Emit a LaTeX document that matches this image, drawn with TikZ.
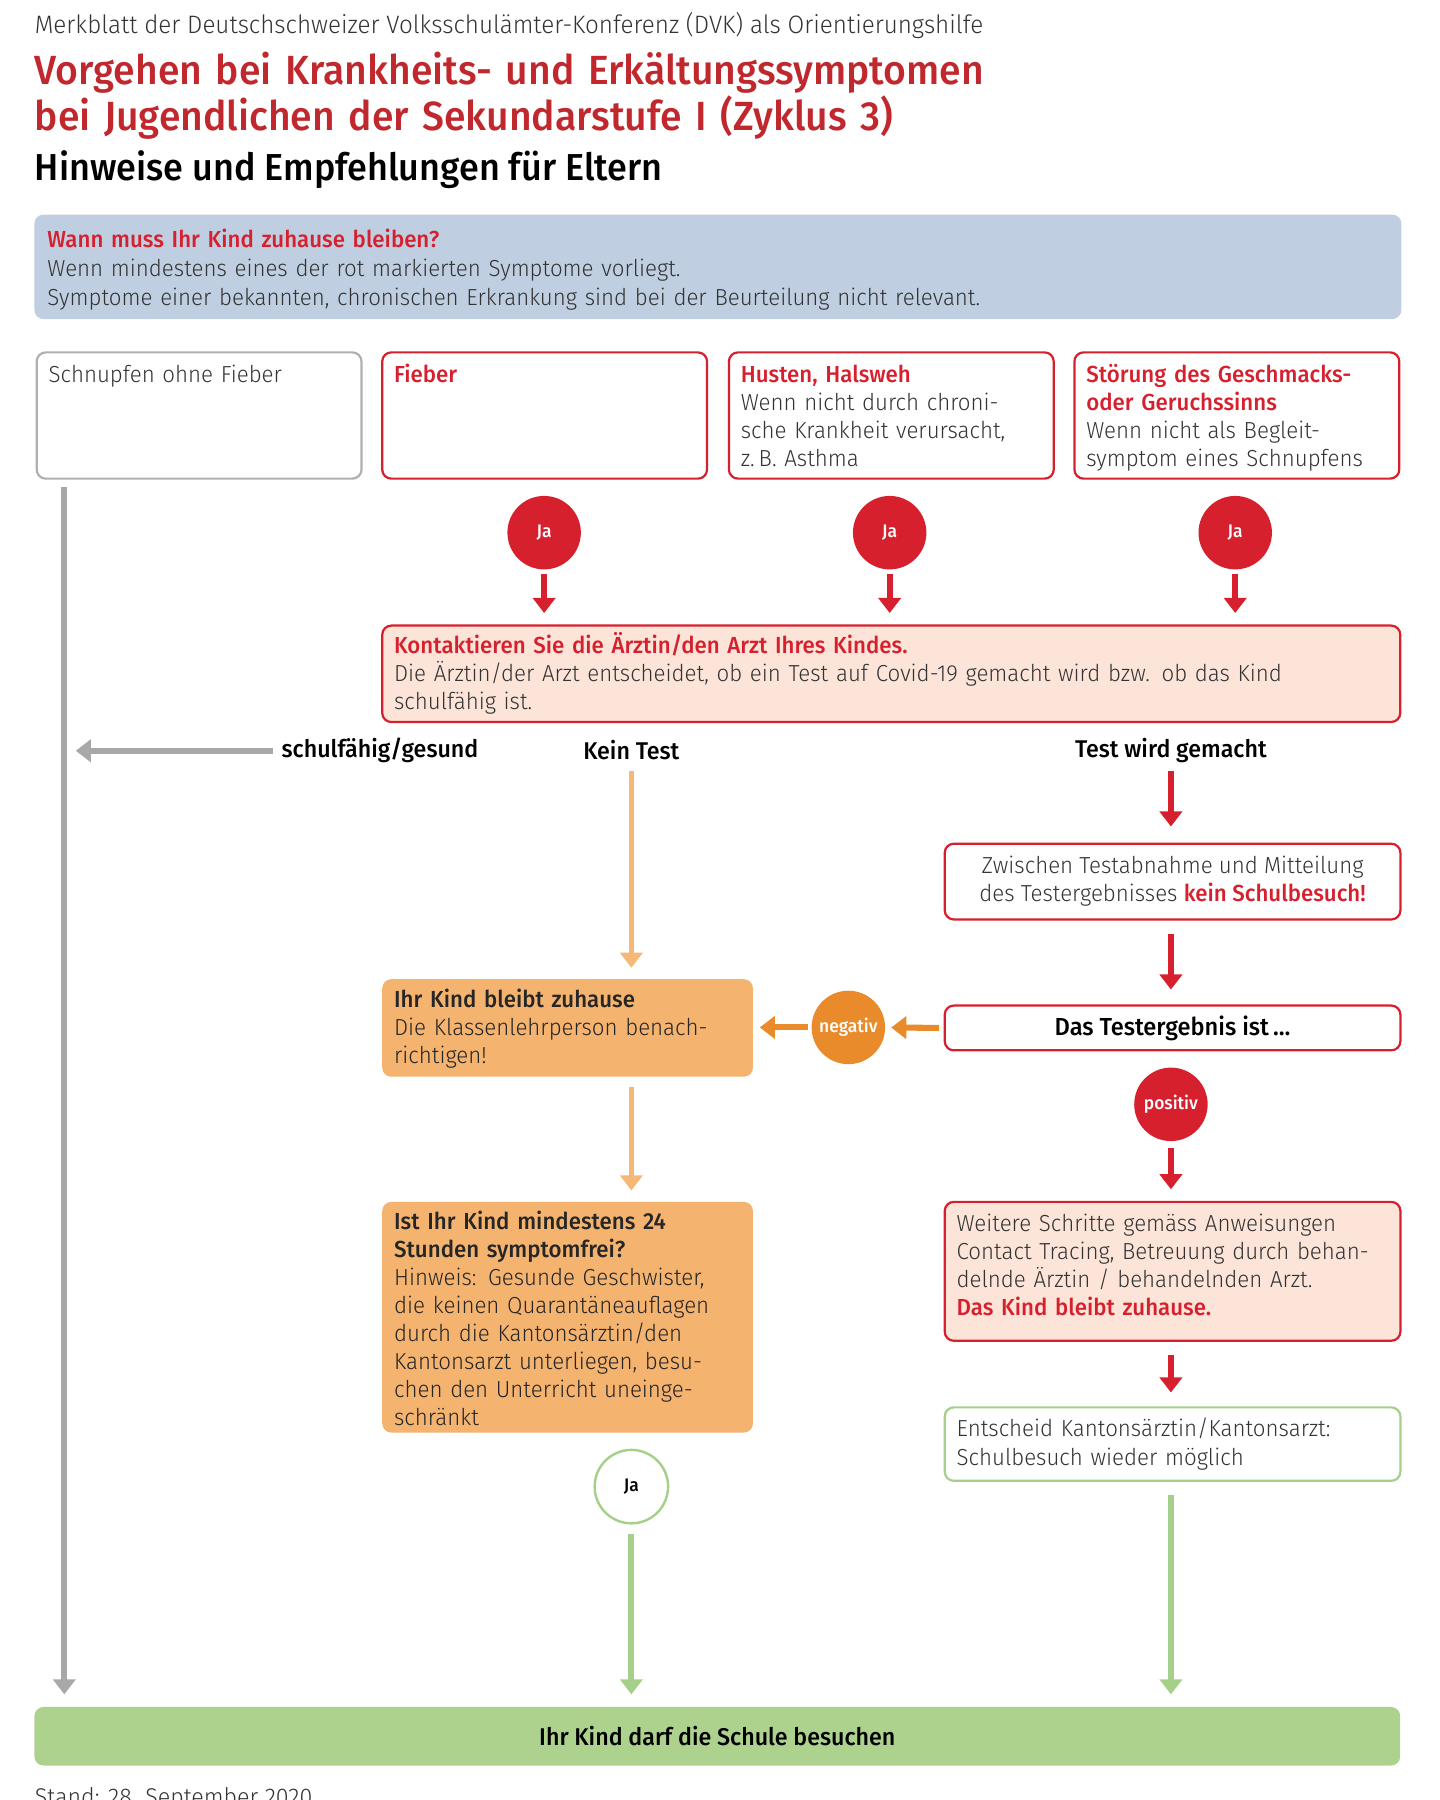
\documentclass[tikz,border=0pt]{standalone}
\usepackage{fontspec}
\setmainfont{Fira Sans}[UprightFont={* Light}, BoldFont={* Medium}, FakeStretch=0.96]
\usetikzlibrary{arrows.meta}
\usetikzlibrary{positioning}
\usetikzlibrary{math}

\definecolor{dvkred}{HTML}{D7202E}
\definecolor{titlered}{HTML}{C0282D}
\definecolor{infoblue}{HTML}{BFCFE1}
\definecolor{rosa}{HTML}{FCE4D8}
\definecolor{orangebox}{HTML}{F4B36F}
\definecolor{orangedark}{HTML}{E98A2B}
\definecolor{orangelight}{HTML}{F5B877}
\definecolor{gruen}{HTML}{ADD28E}
\definecolor{gruenline}{HTML}{A6CF8A}
\definecolor{grau}{HTML}{A8A8A8}
\definecolor{boxgrau}{HTML}{B0B0B0}
\definecolor{textgrey}{HTML}{333333}

\newcommand{\bodyfont}{\fontsize{11.5}{13.9}\selectfont}
\newcommand{\rottext}[1]{\textcolor{dvkred}{\bfseries #1}}

\tikzstyle{box} = [rectangle, rounded corners=4.5pt, anchor=north west, inner sep=0pt, line width=1.1pt]
\tikzstyle{txt} = [anchor=base west, inner sep=0pt, align=left, text width=7.6cm, font=\bodyfont, text=textgrey]
\tikzstyle{weglabel} = [inner sep=0pt, font=\fontsize{12}{14}\selectfont\bfseries, text=black]
\tikzstyle{bubble} = [circle, inner sep=0pt, minimum size=1.28cm, font=\fontsize{9}{10}\selectfont\bfseries, text=white]
\tikzstyle{arrow} = [line width=3pt, -{Triangle[width=11pt,length=7.5pt]}]

\begin{document}
\begin{tikzpicture}[x=0.02cm, y=-0.02cm]

  \useasboundingbox (0,0) rectangle (1254,1568);

  % Kopf
  \node[anchor=base west, inner sep=0pt, font=\fontsize{12.5}{14}\selectfont, text=textgrey] (kopf) at (30,29)
    {Merkblatt der Deutschschweizer Volksschulämter-Konferenz (DVK) als Orientierungshilfe};
  \node[anchor=base west, inner sep=0pt, text width=20cm, align=left, font=\fontsize{20.2}{21.6}\selectfont\bfseries, text=titlered] (titel) at (30,74)
    {Vorgehen bei Krankheits- und Erkältungssymptomen\\bei Jugendlichen der Sekundarstufe I (Zyklus 3)};
  \node[anchor=base west, inner sep=0pt, font=\fontsize{18.6}{21}\selectfont\bfseries, text=black] (untertitel) at (30,157)
    {Hinweise und Empfehlungen für Eltern};

  % Info
  \node[box, fill=infoblue, minimum width=23.82cm, minimum height=1.82cm] (info) at (29,186) {};
  \node[txt, text width=23cm, font=\fontsize{11.5}{14.2}\selectfont] (infotext) at (41,216)
    {\rottext{Wann muss Ihr Kind zuhause bleiben?}\\
     Wenn mindestens eines der rot markierten Symptome vorliegt.\\
     Symptome einer bekannten, chronischen Erkrankung sind bei der Beurteilung nicht relevant.};

  % Symptome
  \node[box, draw=boxgrau, minimum width=5.66cm, minimum height=2.2cm] (schnupfen) at (31,306) {};
  \node[box, draw=dvkred, minimum width=5.66cm, minimum height=2.2cm] (fieber) at (332,306) {};
  \node[box, draw=dvkred, minimum width=5.66cm, minimum height=2.2cm] (husten) at (634,306) {};
  \node[box, draw=dvkred, minimum width=5.66cm, minimum height=2.2cm] (geschmack) at (935,306) {};
  \node[txt] (schnupfentext) at (42,333) {Schnupfen ohne Fieber};
  \node[txt] (fiebertext) at (343,333) {\rottext{Fieber}};
  \node[txt] (hustentext) at (645,333)
    {\rottext{Husten, Halsweh}\\Wenn nicht durch chroni-\\sche Krankheit verursacht,\\z.\,B. Asthma};
  \node[txt] (geschmacktext) at (946,333)
    {\rottext{Störung des Geschmacks-}\\\rottext{oder Geruchssinns}\\Wenn nicht als Begleit-\\symptom eines Schnupfens};

  % Arzt
  \node[box, draw=dvkred, fill=rosa, minimum width=17.74cm, minimum height=1.68cm] (kontakt) at (332,544) {};
  \node[txt, text width=17cm] (kontakttext) at (343,569)
    {\rottext{Kontaktieren Sie die Ärztin/den Arzt Ihres Kindes.}\\
     Die Ärztin/der Arzt entscheidet, ob ein Test auf Covid-19 gemacht wird bzw. ob das Kind\\schulfähig ist.};

  \node[weglabel, anchor=west] (lschul) at (245,654) {schulfähig/gesund};
  \node[weglabel] (lkein) at (550,653) {Kein Test};
  \node[weglabel] (ltest) at (1020,654) {Test wird gemacht};

  % Test
  \node[box, draw=dvkred, fill=white, minimum width=7.94cm, minimum height=1.32cm, align=center, font=\bodyfont, text=textgrey] (zwischen) at (822,734)
    {Zwischen Testabnahme und Mitteilung\\des Testergebnisses \rottext{kein Schulbesuch!}};
  \node[box, draw=dvkred, fill=white, minimum width=7.94cm, minimum height=0.78cm, font=\fontsize{12.2}{14}\selectfont\bfseries, text=black] (ergebnis) at (822,875)
    {Das Testergebnis ist\,…};
  \node[box, draw=dvkred, fill=rosa, minimum width=7.94cm, minimum height=2.42cm] (weitere) at (822,1046) {};
  \node[txt] (weiteretext) at (833,1073)
    {Weitere Schritte gemäss Anweisungen\\Contact Tracing, Betreuung durch behan-\\delnde Ärztin / behandelnden Arzt.\\\rottext{Das Kind bleibt zuhause.}};
  \node[box, draw=gruenline, fill=white, minimum width=7.94cm, minimum height=1.28cm] (entscheid) at (822,1225) {};
  \node[txt, font=\fontsize{11.5}{14.6}\selectfont] (entscheidtext) at (833,1251)
    {Entscheid Kantonsärztin/Kantonsarzt:\\Schulbesuch wieder möglich};

  % Zuhause
  \node[box, fill=orangebox, minimum width=6.46cm, minimum height=1.7cm] (zuhause) at (332,852) {};
  \node[txt, text=black!85] (zuhausetext) at (343,878)
    {\textbf{Ihr Kind bleibt zuhause}\\Die Klassenlehrperson benach-\\richtigen!};
  \node[box, fill=orangebox, minimum width=6.46cm, minimum height=4.02cm] (frei) at (332,1046) {};
  \node[txt, text=black!85] (freitext) at (343,1071)
    {\textbf{Ist Ihr Kind mindestens 24}\\\textbf{Stunden symptomfrei?}\\Hinweis: Gesunde Geschwister,\\die keinen Quarantäneauflagen\\durch die Kantonsärztin/den\\Kantonsarzt unterliegen, besu-\\chen den Unterricht uneinge-\\schränkt};

  % Schule
  \node[box, fill=gruen, minimum width=23.8cm, minimum height=1.02cm, font=\fontsize{12}{14}\selectfont\bfseries, text=black] (schule) at (29,1486)
    {Ihr Kind darf die Schule besuchen};
  \node[anchor=base west, inner sep=0pt, font=\fontsize{12}{14}\selectfont, text=textgrey] (stand) at (30,1573)
    {Stand: 28. September 2020};

  % Kreise
  \foreach \n/\x in {ja1/474, ja2/775, ja3/1076} {
    \node[bubble, fill=dvkred] (\n) at (\x,464) {Ja};
    \draw[arrow, dvkred, shorten <=0.08cm, shorten >=0.2cm] (\n.south) -- (\n.south |- kontakt.north);
  }
  \node[bubble, fill=orangedark] (negativ) at (739,895) {negativ};
  \node[bubble, fill=dvkred] (positiv) at (1020,962) {positiv};
  \node[bubble, draw=gruenline, line width=1.2pt, fill=white, text=black] (jagruen) at (550,1295) {Ja};

  % Pfeile
  \coordinate (links) at (56,424);
  \draw[arrow, grau, shorten >=0.2cm] (links) -- (links |- schule.north);
  \draw[arrow, grau, shorten <=0.14cm, shorten >=0.2cm] (lschul.west) -- (links |- lschul.west);

  \draw[arrow, orangelight, line width=2.6pt, shorten <=0.2cm, shorten >=0.18cm] (lkein.south) -- (lkein.south |- zuhause.north);
  \draw[arrow, orangelight, line width=2.6pt, shorten <=0.16cm, shorten >=0.18cm] (lkein |- zuhause.south) -- (lkein |- frei.north);

  \draw[arrow, dvkred, shorten <=0.14cm, shorten >=0.28cm] (ltest.south) -- (ltest.south |- zwischen.north);
  \draw[arrow, dvkred, shorten <=0.24cm, shorten >=0.26cm] (ltest |- zwischen.south) -- (ltest |- ergebnis.north);
  \draw[arrow, orangedark, shorten <=0.08cm, shorten >=0.1cm] (ergebnis.west) -- (negativ.east);
  \draw[arrow, orangedark, shorten <=0.06cm, shorten >=0.1cm] (negativ.west) -- (negativ.west -| zuhause.east);
  \draw[arrow, dvkred, shorten <=0.12cm, shorten >=0.2cm] (positiv.south) -- (positiv.south |- weitere.north);
  \draw[arrow, dvkred, shorten <=0.22cm, shorten >=0.24cm] (ltest |- weitere.south) -- (ltest |- entscheid.north);

  \draw[arrow, gruenline, shorten <=0.16cm, shorten >=0.2cm] (jagruen.south) -- (jagruen.south |- schule.north);
  \draw[arrow, gruenline, shorten <=0.22cm, shorten >=0.2cm] (ltest |- entscheid.south) -- (ltest |- schule.north);

\end{tikzpicture}
\end{document}
